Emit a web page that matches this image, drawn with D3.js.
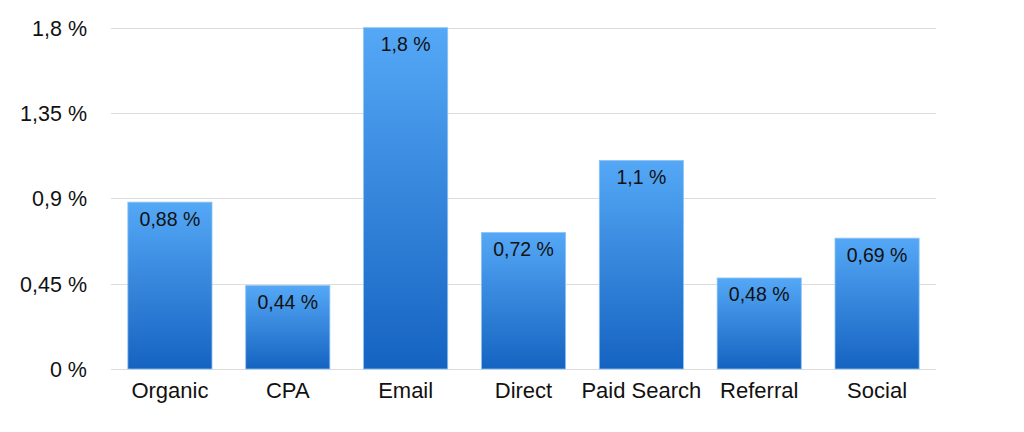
<!DOCTYPE html>
<html>
<head>
<meta charset="utf-8">
<script src="https://cdn.jsdelivr.net/npm/d3@7"></script>
<style>
  html, body { margin: 0; padding: 0; background: #fff; }
  svg { display: block; font-family: "Liberation Sans", Arial, Helvetica, sans-serif; }
</style>
</head>
<body>
<svg id="chart" width="1024" height="432"></svg>
<script>
const categories = ["Organic", "CPA", "Email", "Direct", "Paid Search", "Referral", "Social"];
const values = [0.88, 0.44, 1.8, 0.72, 1.1, 0.48, 0.69];
const valueLabels = ["0,88 %", "0,44 %", "1,8 %", "0,72 %", "1,1 %", "0,48 %", "0,69 %"];
const yTicks = [0, 0.45, 0.9, 1.35, 1.8];
const yTickLabels = ["0 %", "0,45 %", "0,9 %", "1,35 %", "1,8 %"];

(function () {
const svg = d3.select("#chart");
const mLeft = 111, mRight = 936, mTop = 27.7, mBottom = 369;

const x = d3.scaleBand().domain(categories).range([mLeft, mRight]).paddingInner(0.286).paddingOuter(0.143);
const y = d3.scaleLinear().domain([0, 1.8]).range([mBottom, mTop]);

const defs = svg.append("defs");
const grad = defs.append("linearGradient").attr("id", "barGrad")
  .attr("x1", 0).attr("y1", 0).attr("x2", 0).attr("y2", 1);
grad.append("stop").attr("offset", "0%").attr("stop-color", "#55a8f6");
grad.append("stop").attr("offset", "100%").attr("stop-color", "#1563c1");

// gridlines
svg.append("g").selectAll("line").data(yTicks).join("line")
  .attr("x1", mLeft).attr("x2", mRight)
  .attr("y1", d => Math.round(y(d)) + 0.5).attr("y2", d => Math.round(y(d)) + 0.5)
  .attr("stroke", "#dcdcdc").attr("stroke-width", 1);

// y labels
svg.append("g").selectAll("text").data(yTicks).join("text")
  .attr("x", 87).attr("y", d => y(d) + 8)
  .attr("text-anchor", "end").attr("font-size", 21.5).attr("fill", "#111")
  .text((d, i) => yTickLabels[i]);

// bars
const bars = svg.append("g").selectAll("g").data(values).join("g");
bars.append("rect")
  .attr("x", (d, i) => x(categories[i]))
  .attr("y", d => y(d))
  .attr("width", x.bandwidth())
  .attr("height", d => y(0) - y(d))
  .attr("fill", "url(#barGrad)")
  .attr("stroke", "#8cc4f5").attr("stroke-width", 0.8);

bars.append("text")
  .attr("x", (d, i) => x(categories[i]) + x.bandwidth() / 2)
  .attr("y", d => y(d) + 23.5)
  .attr("text-anchor", "middle").attr("font-size", 19.5).attr("fill", "#111")
  .text((d, i) => valueLabels[i]);

// x labels
svg.append("g").selectAll("text").data(categories).join("text")
  .attr("x", d => x(d) + x.bandwidth() / 2)
  .attr("y", 398)
  .attr("text-anchor", "middle").attr("font-size", 22).attr("fill", "#111")
  .text(d => d);
})();
</script>
</body>
</html>
